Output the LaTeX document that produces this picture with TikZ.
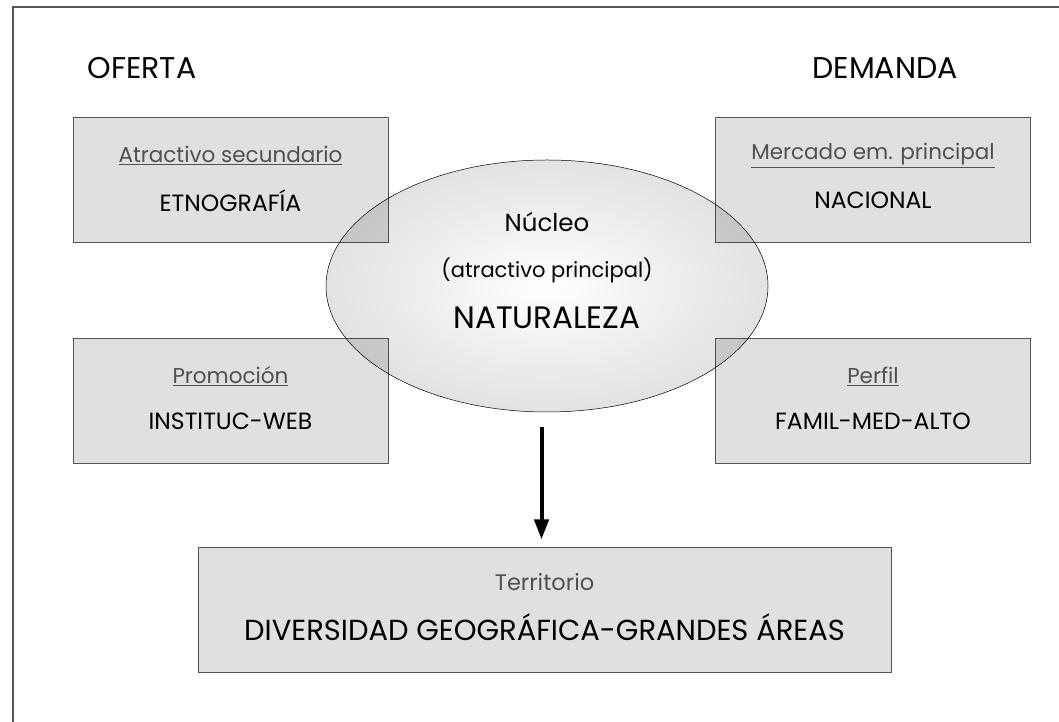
\documentclass[tikz,border=0pt]{standalone}
\usepackage{fontspec}
\setmainfont{Poppins}
\usetikzlibrary{positioning,arrows.meta,shapes.geometric,calc}
\definecolor{BoxColor}{RGB}{224,224,224}
\definecolor{EdgeColor}{RGB}{85,85,85}
\definecolor{LabelColor}{RGB}{80,80,80}
\definecolor{CoreColor}{RGB}{226,226,226}

\begin{document}
\begin{tikzpicture}[x=1pt, y=1pt,
    box/.style={draw=EdgeColor, fill=BoxColor, line width=1pt,
        minimum width=315pt, minimum height=125pt},
    core/.style={ellipse, draw=black, line width=0.5pt,
        shading=radial, inner color=white, outer color=CoreColor,
        minimum width=442pt, minimum height=252pt},
    head/.style={font=\fontsize{30}{32}\selectfont},
    sub/.style={text=LabelColor, font=\fontsize{21.5}{23}\selectfont},
    main/.style={font=\fontsize{23.5}{25}\selectfont}]

    \useasboundingbox (0,0) rectangle (1059,722);
    \draw[EdgeColor, line width=1.5pt] (13,0) -- (13,715) -- (1059,715);

    \node[head] (Oferta) at (142,654) {OFERTA};
    \node[head] (Demanda) at (885,654) {DEMANDA};

    \foreach \name/\x/\y/\sub/\main in {
        Etno/230.5/541.5/Atractivo secundario/ETNOGRAFÍA,
        Mercado/873/541.5/Mercado em. principal/NACIONAL,
        Promo/230.5/321/Promoción/INSTITUC-WEB,
        Perfil/873/321/Perfil/FAMIL-MED-ALTO}
    {
        \node[box] (\name) at (\x,\y) {};
        \node[sub] (\name Sub) at ([yshift=25pt]\name.center) {\underline{\sub}};
        \node[main] (\name Main) at ([yshift=-20pt]\name.center) {\main};
    }

    \begin{scope}[blend mode=multiply]
        \node[core] (Nucleo) at (547,436) {};
    \end{scope}
    \node[main, font=\fontsize{24.5}{26}\selectfont] at ([yshift=64pt]Nucleo.center) (NucleoTop) {Núcleo};
    \node[sub, text=black, font=\fontsize{21}{23}\selectfont] at ([yshift=16pt]Nucleo.center) (NucleoSub) {(atractivo principal)};
    \node[head, font=\fontsize{31}{33}\selectfont] at ([yshift=-32pt]Nucleo.center) (NucleoMain) {NATURALEZA};

    \node[box, minimum width=693pt] (Territorio) at (544.5,111.5) {};
    \node[sub, font=\fontsize{22.5}{24}\selectfont] at ([yshift=28pt]Territorio.center) (TerritorioSub) {Territorio};
    \node[head, font=\fontsize{29}{31}\selectfont] at ([yshift=-17pt]Territorio.center) (TerritorioMain)
        {DIVERSIDAD GEOGRÁFICA-GRANDES ÁREAS};

    \draw[-{Triangle[length=20pt, width=14pt]}, line width=4pt, shorten <=15pt, shorten >=8pt]
        (Nucleo.south -| Territorio.north) ++(-3,0) coordinate (ArrowStart) -- (ArrowStart |- Territorio.north);

\end{tikzpicture}
\end{document}
